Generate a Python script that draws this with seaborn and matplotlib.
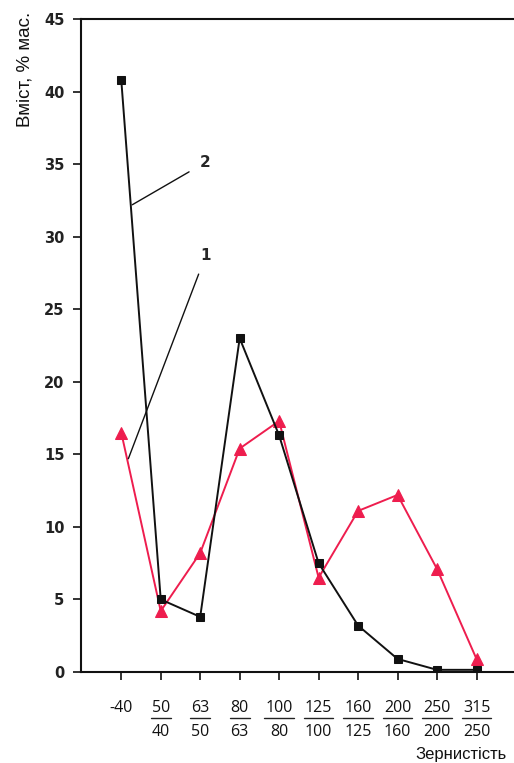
import matplotlib
matplotlib.use("Agg")
import matplotlib.pyplot as plt
import matplotlib.transforms as mtransforms
import numpy as np
import pandas as pd
import seaborn as sns

# Grain-size fractions (numerator / denominator, µm)
numerators = ["-40", "50", "63", "80", "100", "125", "160", "200", "250", "315"]
denominators = ["", "40", "50", "63", "80", "100", "125", "160", "200", "250"]

# Content, % mass
series_1 = [16.5, 4.2, 8.2, 15.4, 17.3, 6.5, 11.1, 12.2, 7.1, 0.9]
series_2 = [40.8, 5.0, 3.8, 23.0, 16.3, 7.5, 3.2, 0.9, 0.15, 0.15]

y_ticks = [0, 5, 10, 15, 20, 25, 30, 35, 40, 45]

RED = "#EE1D4E"
BLACK = "#111111"

sns.set_style("ticks")
plt.rcParams["font.family"] = ["Liberation Sans", "DejaVu Sans"]

fig = plt.figure(figsize=(5.14, 7.63), dpi=100)
ax = fig.add_axes([81 / 514, 1 - 672 / 763, 1 - 81 / 514, (672 - 19) / 763])

idx = np.arange(len(numerators))
df = pd.DataFrame({"pos": np.concatenate([idx, idx]),
                   "value": series_1 + series_2,
                   "curve": ["1"] * len(idx) + ["2"] * len(idx)})

sns.lineplot(data=df[df.curve == "1"], x="pos", y="value", ax=ax, color=RED,
             marker="^", markersize=9, markeredgecolor=RED, linewidth=1.4)
sns.lineplot(data=df[df.curve == "2"], x="pos", y="value", ax=ax, color=BLACK,
             marker="s", markersize=5.5, markeredgecolor=BLACK, linewidth=1.4)

ax.set_xlim(-1.02, 9.95)
ax.set_ylim(0, 45)
ax.set_yticks(y_ticks)
ax.set_yticklabels([str(t) for t in y_ticks], fontfamily="DejaVu Sans",
                   fontweight="bold", fontsize=10.5, color="#222222")
ax.set_xticks(idx)
ax.set_xticklabels([""] * len(idx))
ax.tick_params(axis="both", direction="out", length=6, width=1.2, color=BLACK)
ax.tick_params(axis="y", pad=6)
ax.set_xlabel("")
ax.set_ylabel("")

for side in ["left", "bottom", "top"]:
    ax.spines[side].set_visible(True)
    ax.spines[side].set_linewidth(1.5)
    ax.spines[side].set_color(BLACK)
ax.spines["right"].set_visible(False)

# Fraction labels under the x axis
trans = mtransforms.blended_transform_factory(ax.transData, ax.transAxes)
num_y = (672 - 708) / 653
bar_y = (672 - 718) / 653
den_y = (672 - 732) / 653
fig.canvas.draw()
renderer = fig.canvas.get_renderer()
inv = ax.transData.inverted()
for i, (n, d) in enumerate(zip(numerators, denominators)):
    t = ax.text(i, num_y, n, transform=trans, ha="center", va="center",
                fontsize=11.5, fontfamily="Open Sans", color="#111111", clip_on=False)
    if d:
        bb = t.get_window_extent(renderer)
        x0 = inv.transform((bb.x0 - 1, 0))[0]
        x1 = inv.transform((bb.x1 + 1, 0))[0]
        ax.plot([x0, x1], [bar_y, bar_y], transform=trans, color="#222222",
                linewidth=1.0, clip_on=False)
        ax.text(i, den_y, d, transform=trans, ha="center", va="center",
                fontsize=11.5, fontfamily="Open Sans", color="#111111", clip_on=False)

# Curve labels with leader lines
ax.annotate("2", xy=(0.28, 32.2), xytext=(2.12, 35.1), fontsize=11,
            fontweight="bold", fontfamily="DejaVu Sans", ha="center", va="center",
            arrowprops=dict(arrowstyle="-", color=BLACK, lw=1.0, shrinkA=6, shrinkB=0))
ax.annotate("1", xy=(0.18, 14.7), xytext=(2.14, 28.7), fontsize=11,
            fontweight="bold", fontfamily="DejaVu Sans", ha="center", va="center",
            arrowprops=dict(arrowstyle="-", color=BLACK, lw=1.0, shrinkA=6, shrinkB=0))

fig.text(25 / 514, 1 - 12 / 763, "Вміст, % мас.", rotation=90, ha="center", va="top",
         fontsize=13.5, color="#111111")
fig.text(507 / 514, 1 - 755 / 763, "Зернистість", ha="right", va="center",
         fontsize=12, color="#111111")

fig.savefig("out.png", dpi=100, facecolor="white")
